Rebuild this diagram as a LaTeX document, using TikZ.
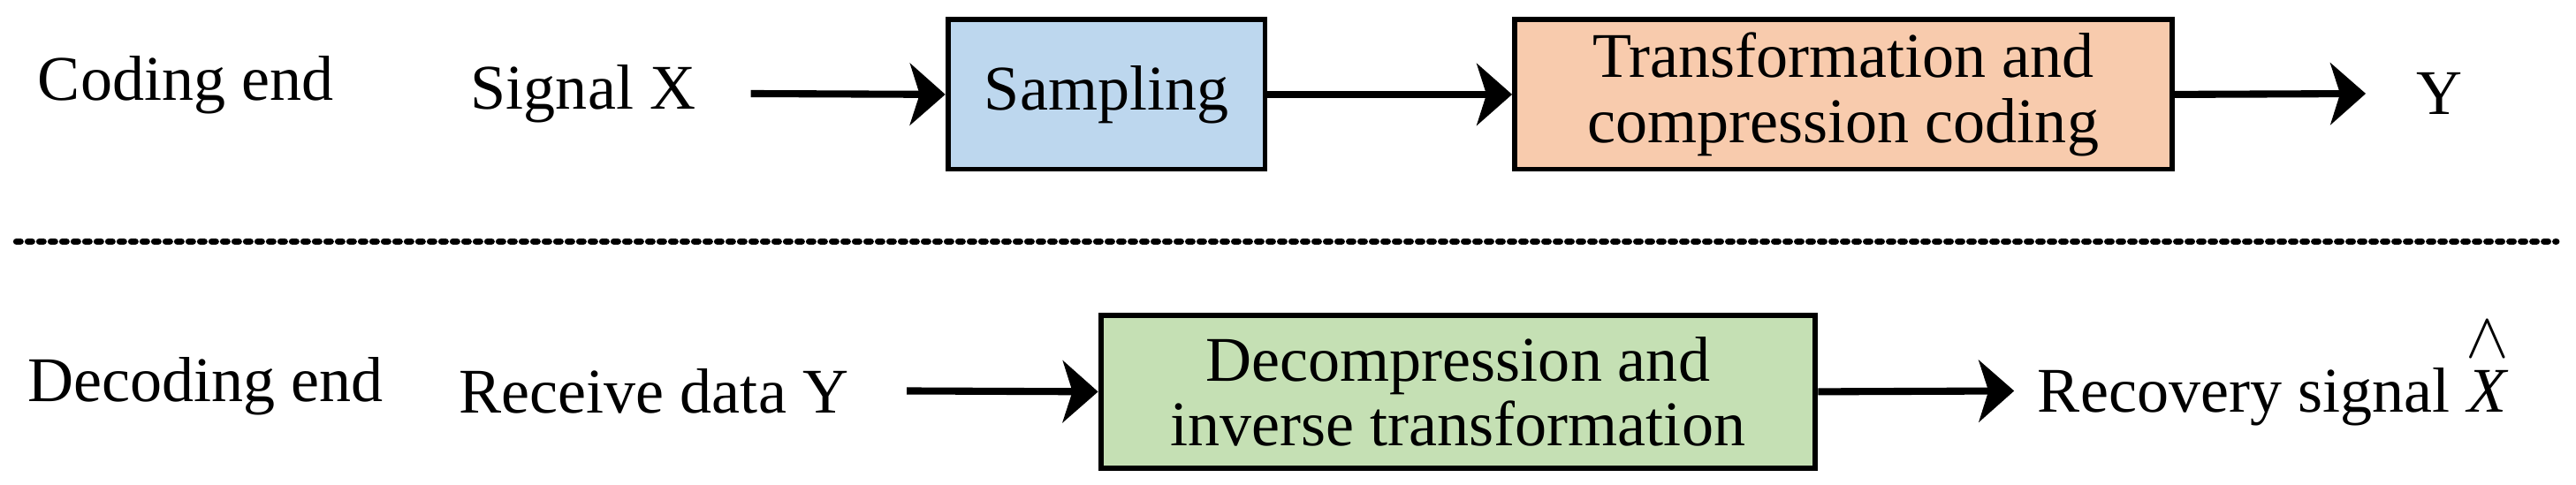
\documentclass[tikz,border=0pt]{standalone}
\usepackage{fontspec}
\usepackage{amsmath}
\setmainfont{Liberation Serif}
\usetikzlibrary{arrows.meta}
\definecolor{cblue}{HTML}{BDD7EE}
\definecolor{corange}{HTML}{F8CBAD}
\definecolor{cgreen}{HTML}{C5E0B4}
\begin{document}
\begin{tikzpicture}[x=0.1859mm,y=-0.1859mm,
  every node/.style={font=\fontsize{20.5}{23}\selectfont, inner sep=0pt},
  box/.style={draw=black, line width=1.7pt, align=center},
  arr/.style={line width=2.3pt, -{Stealth[length=4mm,width=7mm,inset=1.1mm]}}]
\useasboundingbox (0,0) rectangle (1568,295);
\node (ce) at (113,52) {Coding end};
\node (sx) at (355,57) {Signal X};
\node[box, fill=cblue, minimum width=193*0.1859mm, minimum height=91*0.1859mm] (s) at (673.5,57.5) {Sampling};
\node[box, fill=corange, minimum width=400*0.1859mm, minimum height=91*0.1859mm] (t) at (1122,57.5) {Transformation and\\[-2pt]compression coding};
\node (y) at (1485,57) {Y};
\coordinate (a1) at (457,57);
\coordinate (y1) at (1440,57);
\draw[arr] (a1) -- (s.west);
\draw[arr] (s.east) -- (t.west);
\draw[arr] (t.east) -- (y1);
\coordinate (d1) at (10,147);
\coordinate (d2) at (1556,147);
\draw[line width=0.75mm, line cap=round, dash pattern=on 0.45mm off 0.85mm] (d1) -- (d2);
\node (de) at (125,235) {Decoding end};
\node (rd) at (398,238) {Receive data Y};
\node[box, fill=cgreen, minimum width=435*0.1859mm, minimum height=93*0.1859mm] (g) at (887.5,238.5) {Decompression and\\[-2pt]inverse transformation};
\node[anchor=base west] (rs) at (1240,251) {Recovery signal $\overset{\textstyle\wedge}{\textit{X}}$};
\coordinate (a2) at (552,238);
\coordinate (a3) at (1226,238);
\draw[arr] (a2) -- (g.west);
\draw[arr] (g.east) -- (a3);
\end{tikzpicture}
\end{document}
